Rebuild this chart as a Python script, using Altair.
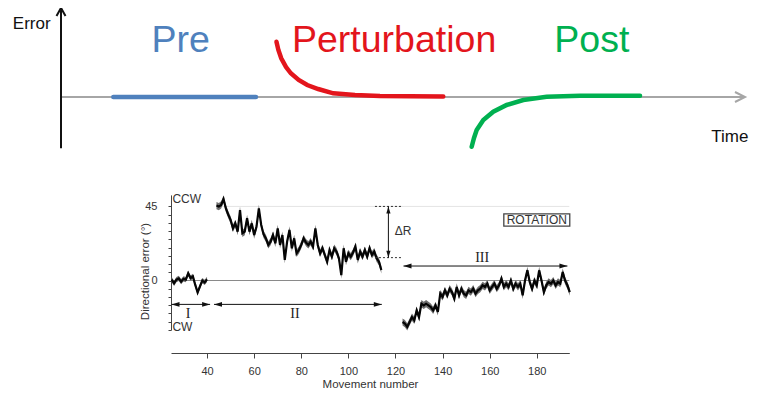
import altair as alt
import pandas as pd

SANS = "Liberation Sans"
SERIF = "Liberation Serif"

# ---------------- top schematic (time / error in arbitrary units) ----------------
phase_names = ["Pre", "Perturbation", "Post"]
phase_colors = ["#4f81bd", "#e3151c", "#00b050"]

pre_time = [7.65, 28.5]
pre_err = [0.0, 0.0]
pert_time = [31.5, 31.78, 32.2, 32.9, 33.6, 34.75, 36.0, 37.6, 39.81, 42.98, 46.64, 51.02, 55.89]
pert_err = [1.005, 0.855, 0.704, 0.545, 0.431, 0.309, 0.218, 0.145, 0.067, 0.036, 0.018, 0.013, 0.009]
post_time = [60.04, 60.38, 60.77, 61.74, 63.2, 65.16, 67.59, 71.0, 75.88, 84.65]
post_err = [-0.904, -0.745, -0.6, -0.418, -0.267, -0.145, -0.055, 0.005, 0.024, 0.024]

phase_label_time = [17.5, 48.7, 77.6]
phase_label_err = [0.82, 0.82, 0.82]

axis_names = ["Error", "Time"]
axis_label_time = [-4.28, 100.5]
axis_label_err = [1.327, -0.722]
time_axis = [0, 100]
error_axis = [-0.93, 1.62]

# ---------------- bottom data plot ----------------
seg1_x = list(range(25, 41))
seg1_y = [0.5, -1.7, 0.5, 1.3, -0.7, 1.0, 0.5, 4.4, 1.5, 2.5, -2.7, -7.2, -3.5, 0.0, -1.2, 0.7]

seg2_x = list(range(44, 115))
seg2_y = [45.5, 44.9, 45.9, 49.5, 43.8, 40.0, 36.8, 31.7, 34.7, 29.7, 42.8, 28.7, 29.7, 37.8,
          29.7, 34.7, 27.6, 32.7, 43.8, 33.7, 28.0, 25.6, 21.6, 23.6, 27.6, 22.6, 31.7, 21.6,
          27.6, 12.5, 23.6, 30.7, 19.6, 25.6, 16.5, 18.5, 21.6, 25.6, 23.0, 21.6, 23.6, 20.6,
          31.7, 21.6, 16.5, 19.6, 15.5, 11.4, 18.5, 14.5, 19.6, 17.5, 13.5, 3.3, 19.6, 11.4,
          16.5, 14.5, 17.0, 20.6, 12.5, 17.5, 14.5, 18.5, 14.5, 19.6, 15.5, 17.5, 13.5, 11.4, 6.4]

seg3_x = list(range(123, 195))
seg3_y = [-25.2, -26.2, -28.2, -25.2, -22.2, -24.2, -18.1, -22.2, -14.1, -15.1,
          -14.1, -15.1, -16.1, -18.1, -15.1, -19.1, -8.0, -10.0, -6.0, -9.0,
          -5.0, -7.0, -11.0, -3.9, -9.0, -5.0, -8.0, -9.0, -6.0, -7.0,
          -5.0, -8.0, -6.0, -5.0, -2.9, -3.9, -1.9, -6.0, -3.9, -1.9,
          -5.0, -2.9, 1.1, -3.9, -1.9, -3.9, 0.0, -5.0, -1.9, -3.9,
          -1.9, -9.0, 0.0, 6.2, -0.9, -5.0, 0.0, -2.9, 6.2, 0.0,
          -7.0, -2.9, -0.9, -1.9, 0.0, -2.9, -0.9, -1.9, 5.2, 0.0,
          -2.9, -7.0]

seg_names = ["I", "II", "III"]
seg_se = [1.6, 2.2, 2.2]

# interval arrows I, II, III
arrow_start = [24.9, 42.95, 123.4]
arrow_end = [41.3, 114.2, 193.0]
arrow_y = [-14.5, -14.5, 8.8]
arrow_label_x = [31.9, 77.3, 156.8]
arrow_label_y = [-20.5, -20.4, 13.85]

# delta R marker
dr_x = 117.0
dr_top = 45.0
dr_bottom = 13.9
dr_dot_from = 111.3
dr_dot_to = 122.6

corner_labels = ["CCW", "CW"]
corner_x = [25.3, 25.3]
corner_y = [49.3, -28.4]

notes = ["ΔR", "ROTATION"]
notes_x = [123.2, 180.0]
notes_y = [30.1, 36.75]
box_x = [166.0, 194.0]
box_y = [33.0, 40.5]

x_ticks = [40, 60, 80, 100, 120, 140, 160, 180]
y_ticks = list(range(-30, 50, 5))

# ---------------- scales ----------------
TX = alt.Scale(domain=[0, 100], range=[53, 737], nice=False, zero=False)
TY = alt.Scale(domain=[0, 1], range=[89, 34], nice=False, zero=False)
BX = alt.Scale(domain=[24.7, 193.8], range=[163, 561.3], nice=False, zero=False)
BY = alt.Scale(domain=[-30, 52], range=[321.9, 186.9], nice=False, zero=False)

XAXIS = alt.Axis(values=x_ticks, title="Movement number", offset=-35, tickSize=5,
                 labelFontSize=11, labelFont=SANS, labelColor="#333", labelPadding=7,
                 domainColor="#444", tickColor="#444", titleFont=SANS, titleFontSize=11.5,
                 titleFontWeight="normal", titleColor="#333", titleX=362, titleY=31,
                 titleBaseline="middle", titleAlign="center", grid=False, labelFlush=False)
YAXIS = alt.Axis(values=y_ticks,
                 labelExpr="datum.value == 0 || datum.value == 45 ? datum.label : ''",
                 offset=-163, tickSize=3, labelFontSize=11, labelFont=SANS, labelColor="#333",
                 labelPadding=11, domainColor="#444", tickColor="#444", grid=False,
                 title="Directional error (°)", titleFont=SANS, titleFontSize=11.5,
                 titleFontWeight="normal", titleColor="#333", titleX=-26, titleY=263,
                 titleAngle=270, titleAlign="center", titleBaseline="middle")


def tx(f):
    return alt.X(f, type="quantitative", scale=TX, axis=None)


def ty(f):
    return alt.Y(f, type="quantitative", scale=TY, axis=None)


def bx(f):
    return alt.X(f, type="quantitative", scale=BX, axis=XAXIS)


def by(f):
    return alt.Y(f, type="quantitative", scale=BY, axis=YAXIS)


# ---------------- top layers ----------------
curve_rows = []
for name, ts, es in zip(phase_names, [pre_time, pert_time, post_time], [pre_err, pert_err, post_err]):
    for i, (t, e) in enumerate(zip(ts, es)):
        curve_rows.append({"phase": name, "t": t, "e": e, "i": i})
curves = pd.DataFrame(curve_rows)

phase_color = alt.Color("phase:N", scale=alt.Scale(domain=phase_names, range=phase_colors), legend=None)

time_axis_df = pd.DataFrame({"t0": [time_axis[0]], "t1": [time_axis[1]], "e": [0.0]})
error_axis_df = pd.DataFrame({"t": [0.0], "e0": [error_axis[0]], "e1": [error_axis[1]]})
time_tip = pd.DataFrame({"t": [time_axis[1]], "e": [0.0]})
error_tip = pd.DataFrame({"t": [0.0], "e": [error_axis[1]]})

top_layers = [
    alt.Chart(time_axis_df).mark_rule(color="#a6a6a6", strokeWidth=2).encode(
        x=tx("t0"), x2="t1", y=ty("e")),
    alt.Chart(time_tip).mark_point(shape="M-1,-0.5L0,0L-1,0.5", size=400, filled=False,
                                   color="#a6a6a6", strokeWidth=2, opacity=1).encode(
        x=tx("t"), y=ty("e")),
    alt.Chart(error_axis_df).mark_rule(color="#111", strokeWidth=2).encode(
        x=tx("t"), y=ty("e0"), y2="e1"),
    alt.Chart(error_tip).mark_point(shape="M-0.5,0.9L0,0L0.5,0.9", size=324, filled=False,
                                    color="#111", strokeWidth=2, opacity=1).encode(
        x=tx("t"), y=ty("e")),
    alt.Chart(curves).mark_line(strokeWidth=4.5, strokeCap="round").encode(
        x=tx("t"), y=ty("e"), color=phase_color, order="i:Q"),
    alt.Chart(pd.DataFrame({"phase": phase_names, "t": phase_label_time, "e": phase_label_err}))
    .mark_text(font=SANS, fontSize=37.5, align="center", baseline="alphabetic").encode(
        x=tx("t"), y=ty("e"), text="phase:N", color=phase_color),
    alt.Chart(pd.DataFrame({"name": axis_names[:1], "t": axis_label_time[:1], "e": axis_label_err[:1]}))
    .mark_text(font=SANS, fontSize=17, align="center", baseline="middle", color="#111").encode(
        x=tx("t"), y=ty("e"), text="name:N"),
    alt.Chart(pd.DataFrame({"name": axis_names[1:], "t": axis_label_time[1:], "e": axis_label_err[1:]}))
    .mark_text(font=SANS, fontSize=17, align="right", baseline="middle", color="#111").encode(
        x=tx("t"), y=ty("e"), text="name:N"),
]
top = alt.layer(*top_layers)

# ---------------- bottom layers ----------------
rows = []
for name, xs, ys, se in zip(seg_names, [seg1_x, seg2_x, seg3_x], [seg1_y, seg2_y, seg3_y], seg_se):
    for x, y in zip(xs, ys):
        rows.append({"seg": name, "x": x, "y": y, "lo": y - se, "hi": y + se})
series = pd.DataFrame(rows)

ref_df = pd.DataFrame({"x0": [44.0, 24.7], "x1": [193.8, 193.8], "y": [45.0, 0.0],
                       "kind": ["faint", "zero"]})
dot_df = pd.DataFrame({"x0": [dr_dot_from, dr_dot_from], "x1": [dr_dot_to, dr_dot_to],
                       "y": [dr_top, dr_bottom]})
dr_df = pd.DataFrame({"x": [dr_x], "y0": [dr_bottom], "y1": [dr_top]})
arrows = pd.DataFrame({"seg": seg_names, "x0": arrow_start, "x1": arrow_end, "y": arrow_y,
                       "lx": arrow_label_x, "ly": arrow_label_y})

bottom_layers = [
    alt.Chart(ref_df[ref_df.kind == "faint"]).mark_rule(color="#e4e4e4", strokeWidth=1).encode(
        x=bx("x0"), x2="x1", y=by("y")),
    alt.Chart(ref_df[ref_df.kind == "zero"]).mark_rule(color="#8a8a8a", strokeWidth=1).encode(
        x=bx("x0"), x2="x1", y=by("y")),
    alt.Chart(series).mark_area(color="#6f6f6f", opacity=1).encode(
        x=bx("x"), y=by("lo"), y2="hi", detail="seg:N"),
    alt.Chart(series).mark_line(color="#050505", strokeWidth=2.2).encode(
        x=bx("x"), y=by("y"), detail="seg:N"),
    alt.Chart(dot_df).mark_rule(color="#333", strokeWidth=1, strokeDash=[2, 2]).encode(
        x=bx("x0"), x2="x1", y=by("y")),
    alt.Chart(dr_df).mark_rule(color="#111", strokeWidth=1).encode(
        x=bx("x"), y=by("y0"), y2="y1"),
    alt.Chart(dr_df).mark_point(shape="M0,0L-0.3,1L0.3,1Z", size=196, filled=True,
                                color="#111", opacity=1).encode(x=bx("x"), y=by("y1")),
    alt.Chart(dr_df).mark_point(shape="M0,0L-0.3,-1L0.3,-1Z", size=196, filled=True,
                                color="#111", opacity=1).encode(x=bx("x"), y=by("y0")),
    alt.Chart(arrows).mark_rule(color="#111", strokeWidth=1).encode(
        x=bx("x0"), x2="x1", y=by("y")),
    alt.Chart(arrows).mark_point(shape="M0,0L1,-0.3L1,0.3Z", size=256, filled=True,
                                 color="#111", opacity=1).encode(x=bx("x0"), y=by("y")),
    alt.Chart(arrows).mark_point(shape="M0,0L-1,-0.3L-1,0.3Z", size=256, filled=True,
                                 color="#111", opacity=1).encode(x=bx("x1"), y=by("y")),
    alt.Chart(arrows).mark_text(font=SERIF, fontSize=14, align="center", baseline="middle",
                                color="#222").encode(x=bx("lx"), y=by("ly"), text="seg:N"),
    alt.Chart(pd.DataFrame({"t": corner_labels, "x": corner_x, "y": corner_y}))
    .mark_text(font=SANS, fontSize=12, align="left", baseline="middle", color="#333").encode(
        x=bx("x"), y=by("y"), text="t:N"),
    alt.Chart(pd.DataFrame({"x0": [box_x[0]], "x1": [box_x[1]], "y0": [box_y[0]], "y1": [box_y[1]]}))
    .mark_rect(fill="white", stroke="#444", strokeWidth=1.3).encode(
        x=bx("x0"), x2="x1", y=by("y0"), y2="y1"),
    alt.Chart(pd.DataFrame({"t": notes, "x": notes_x, "y": notes_y}))
    .mark_text(font=SANS, fontSize=12, align="center", baseline="middle", color="#333").encode(
        x=bx("x"), y=by("y"), text="t:N"),
]
bottom = alt.layer(*bottom_layers)

chart = (
    alt.layer(top, bottom)
    .resolve_scale(x="independent", y="independent", color="independent")
    .properties(width=742, height=380, autosize="none", padding=0)
    .configure_view(stroke=None)
)

chart.save("out.html", embed_options={"renderer": "svg", "actions": False})
